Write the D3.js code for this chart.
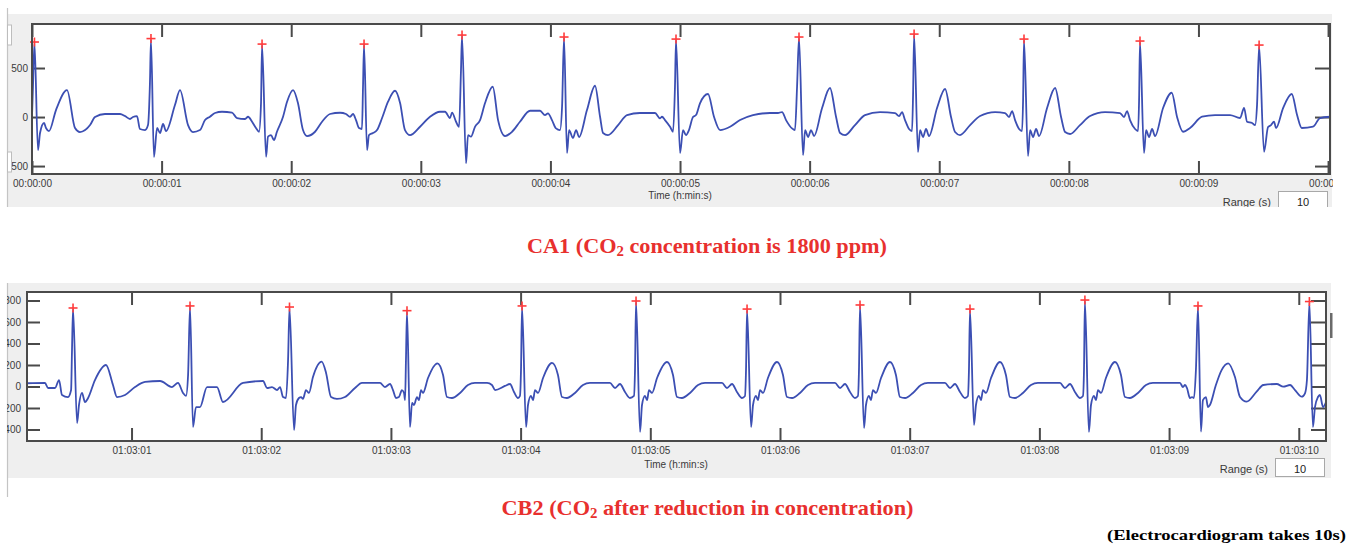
<!DOCTYPE html>
<html><head><meta charset="utf-8">
<script src="https://cdn.jsdelivr.net/npm/d3@7"></script>
<style>body{margin:0;background:#fff}svg{display:block}</style>
</head><body><svg id="c" width="1365" height="552"></svg>
<script>
// ---------------- DATA ----------------
const topTimeTicks = [0,1,2,3,4,5,6,7,8,9,10];
const topTimeLabels = ["00:00:00","00:00:01","00:00:02","00:00:03","00:00:04","00:00:05","00:00:06","00:00:07","00:00:08","00:00:09","00:00:10"];
const topValueTicks = [-500,0,500];
const topValueLabels = ["-500","0","500"];

const botTimeTicks = [1,2,3,4,5,6,7,8,9,10];
const botTimeLabels = ["01:03:01","01:03:02","01:03:03","01:03:04","01:03:05","01:03:06","01:03:07","01:03:08","01:03:09","01:03:10"];
const botValueTicks = [-400,-200,0,200,400,600,800];
const botValueLabels = ["-400","-200","0","200","400","600","800"];

// ECG trace CA1 : [time (s), amplitude]
const ecgCA1 = [
[0.000,0],[0.008,330],[0.019,755],[0.046,-337],[0.062,-163],[0.093,-61],[0.108,-112],[0.131,-143],[0.185,71],[0.270,275],[0.332,-112],[0.370,-153],[0.448,-82],[0.486,0],[0.563,31],[0.679,31],[0.718,10],[0.756,-20],[0.779,0],[0.810,10],[0.833,-122],[0.872,-133],[0.895,-82],[0.910,347],[0.918,790],
[0.941,-408],[0.965,-112],[0.988,-163],[1.011,-71],[1.034,-143],[1.103,122],[1.142,275],[1.204,-82],[1.242,-153],[1.296,-133],[1.335,-31],[1.373,3],[1.412,41],[1.466,54],[1.543,44],[1.582,-10],[1.644,-20],[1.667,3],[1.698,-48],[1.728,-112],[1.752,-150],[1.767,143],[1.775,734],
[1.806,-405],[1.821,-200],[1.844,-184],[1.867,-235],[1.890,-150],[1.937,3],[1.968,156],[2.014,275],[2.052,143],[2.091,-133],[2.122,-194],[2.184,-150],[2.238,-48],[2.299,31],[2.377,44],[2.423,31],[2.454,3],[2.477,31],[2.500,-31],[2.523,-112],[2.546,-122],[2.554,309],[2.562,734],
[2.585,-337],[2.600,-184],[2.631,-163],[2.662,-133],[2.701,-10],[2.747,156],[2.801,268],[2.840,143],[2.878,-133],[2.917,-184],[2.994,-99],[3.071,3],[3.148,54],[3.187,54],[3.225,-10],[3.241,44],[3.272,-48],[3.295,-99],[3.310,479],[3.318,826],
[3.349,-473],[3.364,-184],[3.387,-200],[3.418,-100],[3.457,-31],[3.495,140],[3.555,309],[3.596,-31],[3.650,-194],[3.704,-150],[3.765,-48],[3.843,64],[3.920,64],[3.958,20],[3.981,37],[4.012,-31],[4.043,-116],[4.074,-133],[4.090,112],[4.105,806],
[4.128,-367],[4.144,-133],[4.174,-214],[4.198,-133],[4.221,-204],[4.282,71],[4.344,319],[4.383,3],[4.406,-163],[4.444,-184],[4.522,-82],[4.591,20],[4.691,41],[4.807,41],[4.846,-13],[4.861,3],[4.884,-31],[4.923,-99],[4.946,-150],[4.961,309],[4.969,785],
[5.000,-367],[5.023,-133],[5.046,-184],[5.069,-133],[5.100,0],[5.123,20],[5.154,140],[5.216,235],[5.262,3],[5.309,-133],[5.386,-99],[5.463,-31],[5.563,20],[5.694,41],[5.756,41],[5.787,51],[5.818,-31],[5.864,-116],[5.887,-133],[5.903,309],[5.918,806],
[5.949,-388],[5.965,-133],[5.988,-204],[6.011,-133],[6.034,-194],[6.096,92],[6.157,296],[6.204,0],[6.235,-163],[6.273,-184],[6.350,-82],[6.427,20],[6.543,51],[6.659,41],[6.690,10],[6.713,51],[6.736,-31],[6.767,-122],[6.790,-143],[6.798,224],[6.806,836],
[6.836,-357],[6.852,-133],[6.875,-204],[6.898,-122],[6.921,-194],[6.983,92],[7.045,286],[7.091,0],[7.122,-153],[7.160,-184],[7.238,-82],[7.315,10],[7.431,51],[7.508,41],[7.539,0],[7.562,61],[7.585,-31],[7.616,-122],[7.639,-143],[7.647,173],[7.654,785],
[7.685,-398],[7.701,-133],[7.724,-204],[7.747,-122],[7.770,-194],[7.832,92],[7.894,296],[7.940,0],[7.971,-153],[8.009,-173],[8.086,-82],[8.164,10],[8.279,51],[8.395,41],[8.426,0],[8.449,61],[8.472,-31],[8.511,-122],[8.534,-143],[8.542,173],[8.549,765],
[8.580,-367],[8.596,-133],[8.619,-204],[8.642,-122],[8.665,-194],[8.727,92],[8.794,248],[8.835,0],[8.881,-150],[8.935,-112],[9.028,3],[9.128,20],[9.244,20],[9.321,-10],[9.352,92],[9.375,-48],[9.414,-61],[9.437,-82],[9.452,122],[9.468,724],
[9.506,-354],[9.537,-102],[9.560,-82],[9.583,-48],[9.599,-112],[9.653,92],[9.720,235],[9.761,20],[9.797,-112],[9.884,-99],[9.938,-10],[10.015,3]
];

// ECG trace CB2 : [time (s after 01:03:00), amplitude]
const ecgCB2 = [
[0.194,30],[0.333,33],[0.356,-14],[0.410,-14],[0.441,60],[0.464,-79],[0.510,-98],[0.534,-33],[0.541,340],[0.549,721],
[0.580,-340],[0.595,-172],[0.618,-60],[0.641,-144],[0.665,-107],[0.718,60],[0.803,200],[0.857,14],[0.888,-98],[0.950,-79],[1.027,-5],[1.104,42],[1.220,51],[1.312,-5],[1.358,33],[1.397,-60],[1.420,-88],[1.436,107],[1.451,740],
[1.474,-377],[1.497,-191],[1.528,-191],[1.582,-5],[1.659,-5],[1.705,-144],[1.860,33],[2.014,51],[2.045,-14],[2.083,-5],[2.122,-33],[2.145,-5],[2.168,-98],[2.191,-107],[2.207,246],[2.218,730],
[2.253,-405],[2.268,-172],[2.291,-107],[2.307,-98],[2.322,-116],[2.345,-33],[2.368,-60],[2.399,88],[2.466,231],[2.500,126],[2.538,-98],[2.584,-116],[2.646,-98],[2.723,-14],[2.777,33],[2.916,33],[2.954,-5],[2.993,23],[3.016,-33],[3.039,-107],[3.062,-98],[3.085,-33],[3.101,-60],[3.109,-126],[3.116,246],[3.124,696],
[3.147,-377],[3.163,-153],[3.178,-172],[3.201,-98],[3.216,-126],[3.232,-33],[3.247,-60],[3.286,79],[3.358,216],[3.402,107],[3.432,-98],[3.471,-107],[3.533,-60],[3.594,14],[3.648,33],[3.741,33],[3.779,14],[3.803,-33],[3.879,5],[3.918,23],[3.949,-51],[3.980,-107],[3.995,-88],[4.003,153],[4.011,740],
[4.042,-377],[4.057,-172],[4.080,-88],[4.096,-126],[4.111,-33],[4.134,-60],[4.173,79],[4.242,219],[4.288,107],[4.319,-98],[4.357,-107],[4.419,-60],[4.481,14],[4.535,33],[4.689,33],[4.728,-14],[4.766,23],[4.805,-51],[4.843,-107],[4.874,-88],[4.882,153],[4.890,786],
[4.921,-423],[4.936,-172],[4.959,-88],[4.975,-126],[4.990,-33],[5.013,-60],[5.052,79],[5.129,228],[5.175,107],[5.206,-98],[5.244,-107],[5.306,-60],[5.368,14],[5.422,33],[5.553,33],[5.591,-14],[5.630,23],[5.668,-51],[5.707,-107],[5.730,-88],[5.738,153],[5.746,711],
[5.777,-377],[5.792,-172],[5.815,-88],[5.830,-126],[5.846,-33],[5.869,-60],[5.907,79],[5.977,228],[6.023,107],[6.054,-98],[6.093,-107],[6.154,-60],[6.216,14],[6.270,33],[6.424,33],[6.463,-14],[6.501,23],[6.540,-51],[6.578,-107],[6.601,-88],[6.609,153],[6.617,749],
[6.648,-386],[6.663,-172],[6.686,-88],[6.701,-126],[6.717,-33],[6.740,-60],[6.779,79],[6.848,228],[6.894,107],[6.925,-98],[6.964,-107],[7.025,-60],[7.087,14],[7.141,33],[7.272,33],[7.311,-14],[7.349,23],[7.388,-51],[7.426,-107],[7.449,-88],[7.457,153],[7.465,711],
[7.496,-358],[7.511,-172],[7.534,-88],[7.550,-126],[7.565,-33],[7.588,-60],[7.627,79],[7.696,228],[7.742,107],[7.773,-98],[7.812,-107],[7.873,-60],[7.935,14],[7.989,33],[8.159,33],[8.197,-14],[8.236,23],[8.274,-51],[8.313,-107],[8.336,-88],[8.344,153],[8.351,795],
[8.382,-423],[8.398,-172],[8.421,-88],[8.436,-126],[8.452,-33],[8.475,-60],[8.513,79],[8.583,228],[8.629,107],[8.660,-98],[8.698,-107],[8.760,-60],[8.822,14],[8.876,33],[9.084,33],[9.107,-5],[9.123,14],[9.138,-14],[9.161,-107],[9.177,-98],[9.192,-107],[9.207,153],[9.223,740],
[9.246,-420],[9.261,-126],[9.284,-98],[9.300,-191],[9.315,-172],[9.361,14],[9.405,153],[9.456,216],[9.508,88],[9.547,-98],[9.598,-141],[9.675,-48],[9.727,14],[9.830,23],[9.881,-2],[9.933,14],[9.971,-33],[10.023,-95],[10.048,-63],[10.063,60],[10.082,781],
[10.109,-377],[10.125,-191],[10.148,-98],[10.163,-79],[10.187,-191],[10.210,-144]
];

const captionCA1 = ["CA1 (CO", "2", " concentration is 1800 ppm)"];
const captionCB2 = ["CB2 (CO", "2", " after reduction in concentration)"];
const footNote = "(Electrocardiogram takes 10s)";
const rangeLabel = "Range (s)";
const rangeValue = "10";
const axisTitle = "Time (h:min:s)";

// ---------------- DRAW ----------------
const svg = d3.select("#c");
svg.append("rect").attr("width",1365).attr("height",552).attr("fill","#fff");
const defs = svg.append("defs");
const FRAME = "#4a4a4a", LINE = "#3c4fb3", MARK = "#ff3b3b", TXT = "#3a3a3a";

function panel(cfg){
  const g = svg.append("g");
  g.append("rect").attr("x",cfg.bg[0]).attr("y",cfg.bg[1]).attr("width",cfg.bg[2]-cfg.bg[0]).attr("height",cfg.bg[3]-cfg.bg[1]).attr("fill","#efefef");
  g.append("line").attr("x1",7.5).attr("x2",7.5).attr("y1",cfg.leftLine[0]).attr("y2",cfg.leftLine[1]).attr("stroke","#c4c4c4").attr("stroke-width",1.2);
  const [x0,x1,y0,y1] = cfg.frame;
  g.append("rect").attr("x",x0).attr("y",y0).attr("width",x1-x0).attr("height",y1-y0).attr("fill","#fff");
  const x = d3.scaleLinear().domain(cfg.xDomain).range([x0,x1]);
  const y = d3.scaleLinear().domain(cfg.yDomain).range([y1,y0]);

  const cid = "clip"+cfg.id;
  defs.append("clipPath").attr("id",cid).append("rect").attr("x",x0).attr("y",y0-6).attr("width",x1-x0).attr("height",y1-y0+6);
  const lid = "lclip"+cfg.id;
  defs.append("clipPath").attr("id",lid).append("rect").attr("x",cfg.labelClip[0]).attr("y",cfg.bg[1]).attr("width",cfg.labelClip[1]-cfg.labelClip[0]).attr("height",cfg.bg[3]-cfg.bg[1]);

  const tickFmtX = (d)=> cfg.xLabels[cfg.xTicks.indexOf(d)];
  const tickFmtY = (d)=> cfg.yLabels[cfg.yTicks.indexOf(d)];

  const ax = g.append("g").attr("clip-path",`url(#${lid})`);
  const axB = ax.append("g").attr("transform",`translate(0,${y1})`)
    .call(d3.axisBottom(x).tickValues(cfg.xTicks).tickFormat(tickFmtX).tickSizeInner(-13).tickSizeOuter(0).tickPadding(cfg.xPad));
  const axT = ax.append("g").attr("transform",`translate(0,${y0})`)
    .call(d3.axisTop(x).tickValues(cfg.xTicks).tickFormat("").tickSizeInner(-13).tickSizeOuter(0));
  const axL = ax.append("g").attr("transform",`translate(${x0},0)`)
    .call(d3.axisLeft(y).tickValues(cfg.yTicks).tickFormat(tickFmtY).tickSizeInner(-13).tickSizeOuter(0).tickPadding(cfg.yPad));
  const axR = ax.append("g").attr("transform",`translate(${x1},0)`)
    .call(d3.axisRight(y).tickValues(cfg.yTicks).tickFormat("").tickSizeInner(-15).tickSizeOuter(0));
  [axB,axT,axL,axR].forEach(a=>{
    a.select(".domain").remove();
    a.selectAll(".tick line").attr("stroke",FRAME).attr("stroke-width",2);
    a.selectAll("text").attr("fill",TXT).style("font-family","'Liberation Sans', Arial, sans-serif").style("font-size","10px");
  });

  const line = d3.line().x(d=>x(d[0])).y(d=>y(d[1])).curve(d3.curveMonotoneX);
  g.append("path").datum(cfg.data).attr("d",line).attr("fill","none").attr("stroke",LINE)
   .attr("stroke-width",1.8).attr("stroke-linejoin","round").attr("clip-path",`url(#${cid})`);

  const peaks = cfg.data.filter((d,i,a)=> d[1]>600 && (i===0||a[i-1][1]<d[1]) && (i===a.length-1||a[i+1][1]<d[1]));
  const mk = g.append("g").attr("stroke",MARK).attr("stroke-width",1.6);
  peaks.forEach(p=>{
    const px=x(p[0]), py=y(p[1])-1;
    mk.append("line").attr("x1",px-4.5).attr("x2",px+4.5).attr("y1",py).attr("y2",py);
    mk.append("line").attr("x1",px).attr("x2",px).attr("y1",py-4.5).attr("y2",py+4.5);
  });

  g.append("rect").attr("x",x0).attr("y",y0).attr("width",x1-x0).attr("height",y1-y0)
   .attr("fill","none").attr("stroke",FRAME).attr("stroke-width",2);

  g.append("text").attr("x",cfg.titlePos[0]).attr("y",cfg.titlePos[1]).attr("text-anchor","middle")
   .attr("fill",TXT).style("font-family","'Liberation Sans', Arial, sans-serif").style("font-size","10px").text(axisTitle);
  const rg = g.append("g").attr("clip-path",`url(#${lid})`);
  rg.append("text").attr("x",cfg.range[0]).attr("y",cfg.range[1]).attr("text-anchor","end")
   .attr("fill",TXT).style("font-family","'Liberation Sans', Arial, sans-serif").style("font-size","11px").text(rangeLabel);
  rg.append("rect").attr("x",cfg.rangeBox[0]).attr("y",cfg.rangeBox[1]).attr("width",cfg.rangeBox[2]).attr("height",cfg.rangeBox[3])
   .attr("fill","#fff").attr("stroke","#a8a8a8").attr("stroke-width",1);
  rg.append("text").attr("x",cfg.rangeBox[0]+cfg.rangeBox[2]/2).attr("y",cfg.range[1]).attr("text-anchor","middle")
   .attr("fill","#222").style("font-family","'Liberation Sans', Arial, sans-serif").style("font-size","11px").text(rangeValue);
  return g;
}

const gTop = panel({id:"A", bg:[8,14,1332,207], leftLine:[8,207], frame:[32,1330,24,174],
  xDomain:[0,10.015], yDomain:[-581,949], xTicks:topTimeTicks, xLabels:topTimeLabels,
  yTicks:topValueTicks, yLabels:topValueLabels, xPad:6, yPad:4, labelClip:[11,1333],
  data:ecgCA1, titlePos:[680,199], range:[1271,206], rangeBox:[1278.5,191.5,49,20]});
[[25,45],[152,172]].forEach(r=>{
  gTop.append("rect").attr("x",7.5).attr("y",r[0]).attr("width",4).attr("height",r[1]-r[0]).attr("fill","#fff").attr("stroke","#bdbdbd");
});

const gBot = panel({id:"B", bg:[8,283,1331,478], leftLine:[283,497], frame:[27,1326,292,441],
  xDomain:[0.194,10.210], yDomain:[-507,879], xTicks:botTimeTicks, xLabels:botTimeLabels,
  yTicks:botValueTicks, yLabels:botValueLabels, xPad:6, yPad:6, labelClip:[7,1333],
  data:ecgCB2, titlePos:[676,468], range:[1268,473], rangeBox:[1275.5,458.5,49,18]});
gBot.append("rect").attr("x",1330).attr("y",313).attr("width",2.5).attr("height",25).attr("fill","#6a6a6a");

function caption(parts, cx, by, len){
  const t = svg.append("text").attr("x",cx).attr("y",by).attr("text-anchor","middle")
    .attr("fill","#e8302e").style("font-family","'Liberation Serif', 'Times New Roman', serif")
    .style("font-weight","bold").style("font-size","21px")
    .attr("textLength",len).attr("lengthAdjust","spacingAndGlyphs");
  t.append("tspan").text(parts[0]);
  t.append("tspan").attr("font-size","14px").attr("dy",3).text(parts[1]);
  t.append("tspan").attr("dy",-3).text(parts[2]);
}
caption(captionCA1, 707, 253, 360);
caption(captionCB2, 707.5, 515, 412);

svg.append("text").attr("x",1107).attr("y",540).attr("fill","#000")
  .style("font-family","'Liberation Serif', 'Times New Roman', serif").style("font-weight","bold").style("font-size","15px")
  .attr("textLength",239).attr("lengthAdjust","spacingAndGlyphs").text(footNote);
</script></body></html>
